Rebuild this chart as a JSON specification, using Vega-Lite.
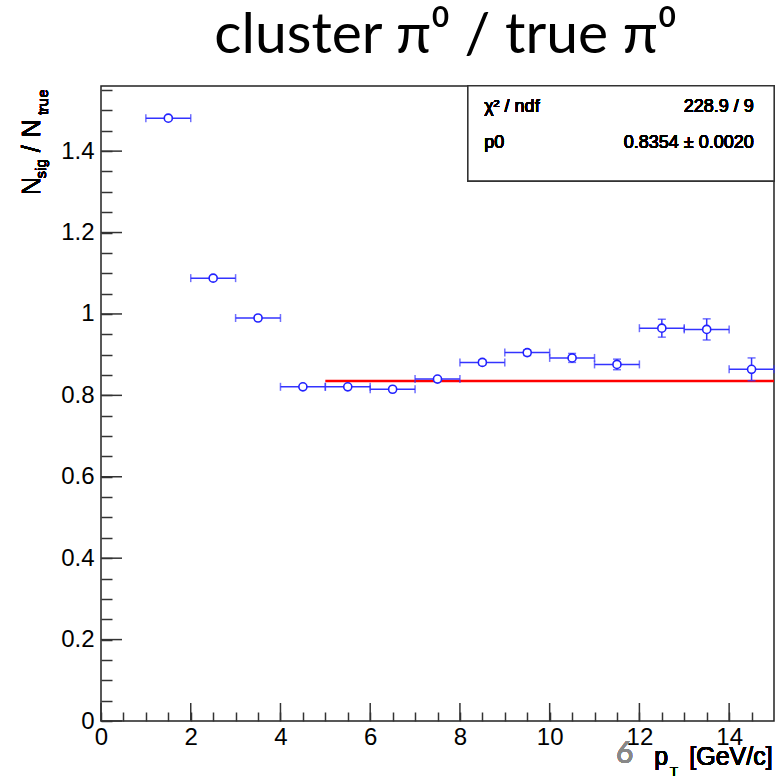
{
  "$schema": "https://vega.github.io/schema/vega-lite/v6.json",
  "width": 673,
  "height": 635,
  "autosize": {"type": "none"},
  "padding": {"left": 101, "top": 86, "right": 3, "bottom": 60},
  "background": "white",
  "title": {
    "text": "cluster π⁰ / true π⁰",
    "font": "Lato",
    "fontSize": 57,
    "fontWeight": "normal",
    "color": "black",
    "anchor": "middle",
    "offset": 13,
    "dx": 8
  },
  "resolve": {"axis": {"x": "independent", "y": "independent"}},
  "config": {
    "view": {"stroke": "#222222", "strokeWidth": 1.5},
    "axis": {
      "grid": false,
      "domain": false,
      "labelFont": "Liberation Sans",
      "labelFontSize": 24,
      "labelColor": "black",
      "tickColor": "#333333",
      "tickWidth": 1.5,
      "labelOverlap": false,
      "labelFlush": false,
      "labelBound": false
    },
    "text": {"font": "Liberation Sans", "color": "black"}
  },
  "datasets": {
    "points": [
      {"x": 1.5, "y": 1.481, "xlo": 1, "xhi": 2, "ylo": 1.477, "yhi": 1.485},
      {"x": 2.5, "y": 1.088, "xlo": 2, "xhi": 3, "ylo": 1.084, "yhi": 1.092},
      {"x": 3.5, "y": 0.990, "xlo": 3, "xhi": 4, "ylo": 0.986, "yhi": 0.994},
      {"x": 4.5, "y": 0.821, "xlo": 4, "xhi": 5, "ylo": 0.818, "yhi": 0.824},
      {"x": 5.5, "y": 0.821, "xlo": 5, "xhi": 6, "ylo": 0.818, "yhi": 0.824},
      {"x": 6.5, "y": 0.815, "xlo": 6, "xhi": 7, "ylo": 0.812, "yhi": 0.818},
      {"x": 7.5, "y": 0.840, "xlo": 7, "xhi": 8, "ylo": 0.836, "yhi": 0.844},
      {"x": 8.5, "y": 0.881, "xlo": 8, "xhi": 9, "ylo": 0.875, "yhi": 0.887},
      {"x": 9.5, "y": 0.905, "xlo": 9, "xhi": 10, "ylo": 0.898, "yhi": 0.912},
      {"x": 10.5, "y": 0.892, "xlo": 10, "xhi": 11, "ylo": 0.881, "yhi": 0.903},
      {"x": 11.5, "y": 0.876, "xlo": 11, "xhi": 12, "ylo": 0.863, "yhi": 0.889},
      {"x": 12.5, "y": 0.965, "xlo": 12, "xhi": 13, "ylo": 0.943, "yhi": 0.987},
      {"x": 13.5, "y": 0.962, "xlo": 13, "xhi": 14, "ylo": 0.936, "yhi": 0.988},
      {"x": 14.5, "y": 0.864, "xlo": 14, "xhi": 15, "ylo": 0.836, "yhi": 0.892}
    ],
    "fit": [{"xlo": 5, "xhi": 15, "p0": 0.8354}],
    "xmajor": [{"v": 0}, {"v": 2}, {"v": 4}, {"v": 6}, {"v": 8}, {"v": 10}, {"v": 12}, {"v": 14}],
    "ymajor": [{"v": 0}, {"v": 0.2}, {"v": 0.4}, {"v": 0.6}, {"v": 0.8}, {"v": 1.0}, {"v": 1.2}, {"v": 1.4}]
  },
  "data": {"name": "points"},
  "layer": [
    {
      "mark": {"type": "point", "opacity": 0},
      "encoding": {
        "x": {"field": "x", "type": "quantitative", "scale": {"domain": [0, 15], "nice": false, "zero": false},
          "axis": {
            "orient": "bottom",
            "title": null,
            "format": "~g",
            "values": [0,0.5,1,1.5,2,2.5,3,3.5,4,4.5,5,5.5,6,6.5,7,7.5,8,8.5,9,9.5,10,10.5,11,11.5,12,12.5,13,13.5,14,14.5],
            "labelExpr": "datum.value % 2 === 0 ? datum.label : ''",
            "tickSize": -9,
            "labelPadding": 13
          }},
        "y": {"field": "y", "type": "quantitative", "scale": {"domain": [0, 1.56], "nice": false, "zero": false},
          "axis": {
            "orient": "left",
            "title": null,
            "format": "~g",
            "values": [0,0.05,0.1,0.15,0.2,0.25,0.3,0.35,0.4,0.45,0.5,0.55,0.6,0.65,0.7,0.75,0.8,0.85,0.9,0.95,1,1.05,1.1,1.15,1.2,1.25,1.3,1.35,1.4,1.45,1.5,1.55],
            "labelExpr": "abs(datum.value*5 - round(datum.value*5)) < 0.001 ? datum.label : ''",
            "tickSize": -11,
            "labelPadding": 18
          }}
      }
    },
    {
      "data": {"name": "xmajor"},
      "mark": {"type": "point", "shape": "M0,0L0,-1", "filled": false, "stroke": "#333333", "strokeWidth": 1.5, "size": 1296, "opacity": 1},
      "encoding": {
        "x": {"field": "v", "type": "quantitative", "axis": null},
        "y": {"datum": 0, "type": "quantitative", "axis": null}
      }
    },
    {
      "data": {"name": "ymajor"},
      "mark": {"type": "point", "shape": "M0,0L1,0", "filled": false, "stroke": "#333333", "strokeWidth": 1.5, "size": 1764, "opacity": 1},
      "encoding": {
        "x": {"datum": 0, "type": "quantitative", "axis": null},
        "y": {"field": "v", "type": "quantitative", "axis": null}
      }
    },
    {
      "data": {"name": "fit"},
      "mark": {"type": "rule", "color": "#ff0000", "strokeWidth": 2.5},
      "encoding": {
        "x": {"field": "xlo", "type": "quantitative", "axis": null},
        "x2": {"field": "xhi"},
        "y": {"field": "p0", "type": "quantitative", "axis": null}
      }
    },
    {
      "mark": {"type": "rule", "color": "#3333ff", "strokeWidth": 1.5},
      "encoding": {
        "x": {"field": "xlo", "type": "quantitative", "axis": null},
        "x2": {"field": "xhi"},
        "y": {"field": "y", "type": "quantitative", "axis": null}
      }
    },
    {
      "mark": {"type": "rule", "color": "#3333ff", "strokeWidth": 1.5},
      "encoding": {
        "x": {"field": "x", "type": "quantitative", "axis": null},
        "y": {"field": "ylo", "type": "quantitative", "axis": null},
        "y2": {"field": "yhi"}
      }
    },
    {
      "mark": {"type": "tick", "color": "#3333ff", "orient": "vertical", "size": 8, "thickness": 1.5},
      "encoding": {
        "x": {"field": "xlo", "type": "quantitative", "axis": null},
        "y": {"field": "y", "type": "quantitative", "axis": null}
      }
    },
    {
      "mark": {"type": "tick", "color": "#3333ff", "orient": "vertical", "size": 8, "thickness": 1.5},
      "encoding": {
        "x": {"field": "xhi", "type": "quantitative", "axis": null},
        "y": {"field": "y", "type": "quantitative", "axis": null}
      }
    },
    {
      "mark": {"type": "tick", "color": "#3333ff", "orient": "horizontal", "size": 8, "thickness": 1.5},
      "encoding": {
        "x": {"field": "x", "type": "quantitative", "axis": null},
        "y": {"field": "ylo", "type": "quantitative", "axis": null}
      }
    },
    {
      "mark": {"type": "tick", "color": "#3333ff", "orient": "horizontal", "size": 8, "thickness": 1.5},
      "encoding": {
        "x": {"field": "x", "type": "quantitative", "axis": null},
        "y": {"field": "yhi", "type": "quantitative", "axis": null}
      }
    },
    {
      "mark": {"type": "point", "shape": "circle", "filled": false, "fill": "white", "fillOpacity": 1, "stroke": "#2222ff", "strokeWidth": 1.6, "size": 65, "opacity": 1},
      "encoding": {
        "x": {"field": "x", "type": "quantitative", "axis": null},
        "y": {"field": "y", "type": "quantitative", "axis": null}
      }
    },
    {
      "mark": {"type": "rect", "fill": "white", "stroke": "#333333", "strokeWidth": 1.2},
      "encoding": {
        "x": {"datum": 8.18, "type": "quantitative", "axis": null},
        "x2": {"datum": 15},
        "y": {"datum": 1.56, "type": "quantitative", "axis": null},
        "y2": {"datum": 1.327}
      }
    },
    {
      "mark": {"type": "text", "align": "left", "baseline": "alphabetic", "fontSize": 18, "text": "χ² / ndf"},
      "encoding": {"x": {"datum": 8.54, "type": "quantitative", "axis": null}, "y": {"datum": 1.496, "type": "quantitative", "axis": null}}
    },
    {
      "mark": {"type": "text", "align": "right", "baseline": "alphabetic", "fontSize": 18, "text": "228.9 / 9"},
      "encoding": {"x": {"datum": 14.55, "type": "quantitative", "axis": null}, "y": {"datum": 1.496, "type": "quantitative", "axis": null}}
    },
    {
      "mark": {"type": "text", "align": "left", "baseline": "alphabetic", "fontSize": 18, "text": "p0"},
      "encoding": {"x": {"datum": 8.54, "type": "quantitative", "axis": null}, "y": {"datum": 1.407, "type": "quantitative", "axis": null}}
    },
    {
      "mark": {"type": "text", "align": "right", "baseline": "alphabetic", "fontSize": 18, "text": "0.8354 ± 0.0020"},
      "encoding": {"x": {"datum": 14.55, "type": "quantitative", "axis": null}, "y": {"datum": 1.407, "type": "quantitative", "axis": null}}
    },
    {
      "mark": {"type": "text", "align": "left", "baseline": "alphabetic", "fontSize": 25, "angle": 270, "text": "N"},
      "encoding": {"x": {"datum": -1.37, "type": "quantitative", "axis": null}, "y": {"datum": 1.292, "type": "quantitative", "axis": null}}
    },
    {
      "mark": {"type": "text", "align": "left", "baseline": "alphabetic", "fontSize": 15, "angle": 270, "text": "sig"},
      "encoding": {"x": {"datum": -1.236, "type": "quantitative", "axis": null}, "y": {"datum": 1.333, "type": "quantitative", "axis": null}}
    },
    {
      "mark": {"type": "text", "align": "left", "baseline": "alphabetic", "fontSize": 25, "angle": 270, "text": "/"},
      "encoding": {"x": {"datum": -1.37, "type": "quantitative", "axis": null}, "y": {"datum": 1.397, "type": "quantitative", "axis": null}}
    },
    {
      "mark": {"type": "text", "align": "left", "baseline": "alphabetic", "fontSize": 25, "angle": 270, "text": "N"},
      "encoding": {"x": {"datum": -1.37, "type": "quantitative", "axis": null}, "y": {"datum": 1.434, "type": "quantitative", "axis": null}}
    },
    {
      "mark": {"type": "text", "align": "left", "baseline": "alphabetic", "fontSize": 15, "angle": 270, "text": "true"},
      "encoding": {"x": {"datum": -1.192, "type": "quantitative", "axis": null}, "y": {"datum": 1.488, "type": "quantitative", "axis": null}}
    },
    {
      "mark": {"type": "text", "align": "left", "baseline": "alphabetic", "fontSize": 25, "text": "p"},
      "encoding": {"x": {"datum": 12.33, "type": "quantitative", "axis": null}, "y": {"datum": -0.109, "type": "quantitative", "axis": null}}
    },
    {
      "mark": {"type": "text", "align": "left", "baseline": "alphabetic", "fontSize": 13, "text": "T"},
      "encoding": {"x": {"datum": 12.68, "type": "quantitative", "axis": null}, "y": {"datum": -0.136, "type": "quantitative", "axis": null}}
    },
    {
      "mark": {"type": "text", "align": "right", "baseline": "alphabetic", "fontSize": 25, "text": "[GeV/c]"},
      "encoding": {"x": {"datum": 14.97, "type": "quantitative", "axis": null}, "y": {"datum": -0.109, "type": "quantitative", "axis": null}}
    },
    {
      "mark": {"type": "text", "align": "left", "baseline": "alphabetic", "fontSize": 30, "font": "Lato", "color": "#888888", "text": "6"},
      "encoding": {"x": {"datum": 11.48, "type": "quantitative", "axis": null}, "y": {"datum": -0.104, "type": "quantitative", "axis": null}}
    }
  ]
}
